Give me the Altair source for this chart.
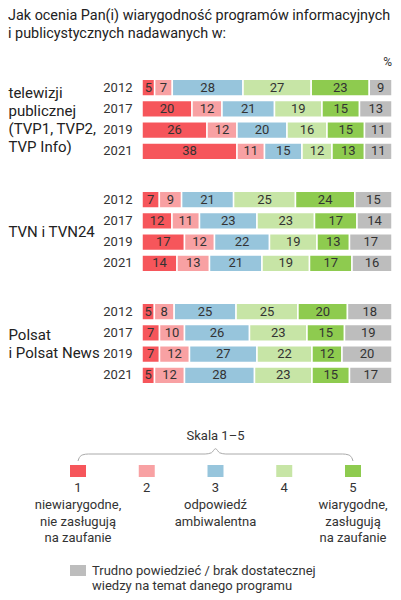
import altair as alt
import pandas as pd

title_lines = ["Jak ocenia Pan(i) wiarygodność programów informacyjnych",
               "i publicystycznych nadawanych w:"]
group_labels = [["telewizji", "publicznej", "(TVP1, TVP2,", "TVP Info)"],
                ["TVN i TVN24"],
                ["Polsat", "i Polsat News"]]
years = ["2012", "2017", "2019", "2021"]
categories = ["1", "2", "3", "4", "5", "brak"]
colors = ["#f6565b", "#f8a1a3", "#97c5dc", "#c7e5a6", "#8ecb4f", "#bdbdbd"]

tvp = [[5, 7, 28, 27, 23, 9],
       [20, 12, 21, 19, 15, 13],
       [26, 12, 20, 16, 15, 11],
       [38, 11, 15, 12, 13, 11]]
tvn = [[7, 9, 21, 25, 24, 15],
       [12, 11, 23, 23, 17, 14],
       [17, 12, 22, 19, 13, 17],
       [14, 13, 21, 19, 17, 16]]
polsat = [[5, 8, 25, 25, 20, 18],
          [7, 10, 26, 23, 15, 19],
          [7, 12, 27, 22, 12, 20],
          [5, 12, 28, 23, 15, 17]]

scale_numbers = [1, 2, 3, 4, 5]
scale_desc = ["niewiarygodne,\nnie zasługują\nna zaufanie", "",
              "odpowiedź\nambiwalentna", "",
              "wiarygodne,\nzasługują\nna zaufanie"]
scale_title = "Skala 1–5"
other_label = "Trudno powiedzieć / brak dostatecznej\n\u00a0wiedzy na temat danego programu"
unit_label = "%"

FONT = "Roboto"
W = 250
H = 85
LABEL_LH = 18

color_scale = alt.Scale(domain=categories, range=colors)


def panel(vals, label, unit=False):
    rows = []
    for i, y in enumerate(years):
        for j, (c, v) in enumerate(zip(categories, vals[i])):
            rows.append({"year": y, "cat": c, "order": j, "value": v})
    df = pd.DataFrame(rows)
    base = alt.Chart(df).transform_stack(
        stack="value", as_=["x0", "x1"], groupby=["year"],
        sort=[alt.SortField("order")], offset="normalize"
    ).transform_calculate(mid="(datum.x0 + datum.x1) / 2")
    yenc = alt.Y(
        "year:N", sort=years,
        scale=alt.Scale(paddingInner=0.214, paddingOuter=0.107),
        axis=alt.Axis(title=label, titleAngle=0, titleAlign="left",
                      titleBaseline="middle", titleX=-134,
                      titleY=H / 2 - (len(label) - 1) * LABEL_LH / 2,
                      titleFont=FONT, titleFontSize=15, titleFontWeight="normal",
                      titleColor="#222", titleLineHeight=LABEL_LH,
                      labelFont=FONT, labelFontSize=13, labelColor="#333",
                      labelPadding=10, ticks=False, domain=False),
    )
    bars = base.mark_bar(stroke="white", strokeWidth=1.5).encode(
        x=alt.X("x0:Q", scale=alt.Scale(domain=[0, 1]), axis=None),
        x2="x1:Q",
        y=yenc,
        color=alt.Color("cat:N", scale=color_scale, legend=None),
    )
    text = base.mark_text(font=FONT, fontSize=13, color="#333").encode(
        x="mid:Q", y=alt.Y("year:N", sort=years), text="value:Q"
    )
    layers = [bars, text]
    if unit:
        layers.append(
            alt.Chart(pd.DataFrame({"t": [unit_label]})).mark_text(
                font=FONT, fontSize=12, color="#333", align="right", baseline="bottom"
            ).encode(x=alt.value(W), y=alt.value(-8), text="t:N")
        )
    return alt.layer(*layers).properties(width=W, height=H)


p1 = panel(tvp, group_labels[0], unit=True)
p2 = panel(tvn, group_labels[1])
p3 = panel(polsat, group_labels[2])

# legend panel: scale 1..5 positions
px_per_unit = 68.75
lo = 1 + 64 / px_per_unit
xs = alt.Scale(domain=[lo, lo + W / px_per_unit])
leg_df = pd.DataFrame({"num": scale_numbers, "label": [str(n) for n in scale_numbers],
                       "desc": scale_desc, "cat": categories[:5]})
leg = alt.Chart(leg_df)
swatch = leg.mark_rect(width=16).encode(
    x=alt.X("num:Q", scale=xs, axis=None), y=alt.value(52), y2=alt.value(64),
    color=alt.Color("cat:N", scale=color_scale, legend=None))
nums = leg.mark_text(font=FONT, fontSize=13, color="#333", baseline="middle").encode(
    x=alt.X("num:Q", scale=xs, axis=None), y=alt.value(75), text="label:N")
descs = leg.mark_text(font=FONT, fontSize=13, color="#333", baseline="alphabetic",
                      lineBreak="\n", lineHeight=16.5).encode(
    x=alt.X("num:Q", scale=xs, axis=None), y=alt.value(96), text="desc:N")
skala = alt.Chart(pd.DataFrame({"t": [scale_title], "num": [3]})).mark_text(
    font=FONT, fontSize=13, color="#333", baseline="middle").encode(
    x=alt.X("num:Q", scale=xs, axis=None), y=alt.value(23), text="t:N")
# curly brace decoration spanning scale 1..5
bx = [1.0, 1.02, 1.07, 1.15, 2.85, 2.94, 3.0, 3.06, 3.15, 4.85, 4.93, 4.98, 5.0]
by = [48, 44.5, 41.8, 41, 41, 39.8, 35.7, 39.8, 41, 41, 41.8, 44.5, 48]
brace = alt.Chart(pd.DataFrame({"bx": bx, "by": by})).mark_line(
    color="#aaa", strokeWidth=1, interpolate="monotone").encode(
    x=alt.X("bx:Q", scale=xs, axis=None), y=alt.Y("by:Q", scale=None, axis=None))
other_df = pd.DataFrame({"num": [1], "cat": [categories[5]], "t": [other_label]})
other_sw = alt.Chart(other_df).mark_rect(width=16).encode(
    x=alt.X("num:Q", scale=xs, axis=None), y=alt.value(152), y2=alt.value(163),
    color=alt.Color("cat:N", scale=color_scale, legend=None))
other_tx = alt.Chart(other_df).mark_text(
    font=FONT, fontSize=13, color="#333", align="left", baseline="alphabetic",
    lineBreak="\n", lineHeight=14.5, dx=14).encode(
    x=alt.X("num:Q", scale=xs, axis=None), y=alt.value(162), text="t:N")
legend = alt.layer(brace, skala, swatch, nums, descs, other_sw, other_tx).properties(
    width=W, height=170)

chart = alt.vconcat(p1, p2, p3, legend, spacing=27, bounds="flush").properties(
    title=alt.Title(title_lines, anchor="start", frame="bounds", font=FONT,
                    fontSize=14.4, fontWeight="normal", color="#222", lineHeight=17.5,
                    offset=15),
    padding=0,
).configure_view(stroke=None)

chart.save("out.html", embed_options={"renderer": "svg", "actions": False})
